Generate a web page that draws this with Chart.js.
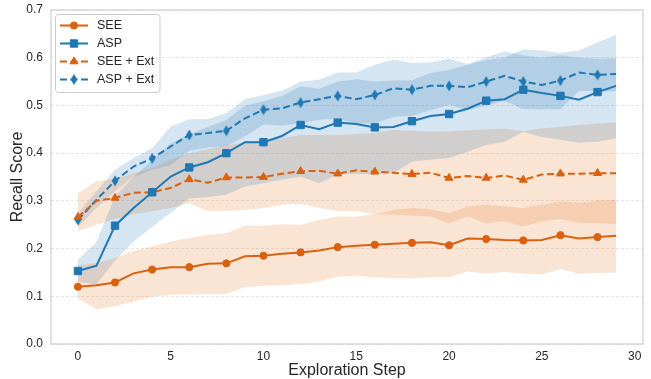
<!DOCTYPE html>
<html><head><meta charset="utf-8">
<script src="https://cdn.jsdelivr.net/npm/chart.js@4/dist/chart.umd.min.js"></script>
<style>html,body{margin:0;padding:0;background:#fff;}#wrap{width:651px;height:379px;}</style>
</head><body><div id="wrap"><canvas id="c" width="651" height="379"></canvas></div>
<script>
const steps = [0,1,2,3,4,5,6,7,8,9,10,11,12,13,14,15,16,17,18,19,20,21,22,23,24,25,26,27,28,29];
const xTicks = [0,5,10,15,20,25,30];
const yTicks = [0,0.1,0.2,0.3,0.4,0.5,0.6,0.7];
const seriesNames = ['SEE','ASP','SEE + Ext','ASP + Ext'];

const seeMean = [0.120,0.123,0.129,0.148,0.156,0.161,0.161,0.168,0.169,0.184,0.185,0.189,0.192,0.196,0.203,0.206,0.208,0.210,0.212,0.213,0.207,0.221,0.220,0.218,0.217,0.218,0.228,0.221,0.224,0.227];
const seeLow  = [0.095,0.073,0.079,0.089,0.099,0.104,0.104,0.105,0.105,0.119,0.122,0.123,0.126,0.131,0.141,0.143,0.140,0.138,0.138,0.140,0.140,0.152,0.148,0.151,0.147,0.146,0.157,0.147,0.149,0.150];
const seeHigh = [0.165,0.170,0.180,0.195,0.205,0.215,0.222,0.229,0.232,0.248,0.248,0.251,0.250,0.260,0.267,0.267,0.272,0.281,0.285,0.283,0.274,0.288,0.292,0.288,0.285,0.292,0.299,0.296,0.301,0.302];

const aspMean = [0.153,0.164,0.248,0.285,0.318,0.351,0.370,0.381,0.400,0.423,0.423,0.436,0.459,0.450,0.464,0.461,0.454,0.455,0.467,0.478,0.482,0.493,0.510,0.513,0.533,0.526,0.520,0.512,0.528,0.541];
const aspLow  = [0.130,0.125,0.175,0.215,0.245,0.275,0.305,0.308,0.313,0.330,0.337,0.344,0.351,0.337,0.355,0.357,0.355,0.358,0.382,0.386,0.390,0.403,0.417,0.424,0.445,0.434,0.428,0.422,0.424,0.431];
const aspHigh = [0.176,0.214,0.310,0.350,0.385,0.420,0.440,0.455,0.470,0.500,0.509,0.520,0.540,0.535,0.550,0.555,0.550,0.552,0.553,0.568,0.574,0.585,0.595,0.600,0.618,0.615,0.610,0.615,0.632,0.648];

const seeExtMean = [0.266,0.300,0.306,0.317,0.318,0.327,0.345,0.338,0.349,0.349,0.350,0.357,0.362,0.363,0.357,0.364,0.361,0.359,0.356,0.359,0.348,0.352,0.348,0.353,0.344,0.355,0.357,0.357,0.358,0.358];
const seeExtLow  = [0.236,0.250,0.262,0.272,0.278,0.285,0.295,0.278,0.279,0.281,0.285,0.292,0.294,0.285,0.278,0.278,0.272,0.271,0.269,0.268,0.253,0.267,0.253,0.257,0.246,0.257,0.262,0.254,0.253,0.252];
const seeExtHigh = [0.316,0.341,0.346,0.358,0.369,0.386,0.400,0.408,0.417,0.422,0.428,0.431,0.438,0.438,0.438,0.440,0.442,0.449,0.447,0.445,0.446,0.448,0.450,0.451,0.446,0.452,0.455,0.459,0.462,0.464];

const aspExtMean = [0.260,0.302,0.342,0.372,0.389,0.414,0.438,0.442,0.447,0.473,0.491,0.494,0.506,0.513,0.520,0.513,0.522,0.536,0.533,0.541,0.541,0.538,0.550,0.562,0.550,0.543,0.552,0.569,0.564,0.566];
const aspExtLow  = [0.245,0.285,0.320,0.350,0.365,0.375,0.405,0.412,0.415,0.435,0.460,0.458,0.462,0.470,0.472,0.462,0.462,0.476,0.478,0.490,0.501,0.490,0.500,0.510,0.492,0.492,0.492,0.530,0.530,0.529];
const aspExtHigh = [0.275,0.320,0.365,0.390,0.410,0.456,0.471,0.471,0.484,0.513,0.522,0.531,0.550,0.554,0.569,0.569,0.585,0.596,0.589,0.590,0.598,0.587,0.601,0.613,0.605,0.600,0.605,0.600,0.598,0.599];

const ORANGE = '#d9610f', BLUE = '#1f77b4';
const ORANGE_FILL = 'rgba(232,120,40,0.2)', BLUE_FILL = 'rgba(31,119,180,0.19)';
const FONT = '"Liberation Sans", Arial, sans-serif';
const TXT = '#262626';

function thinDiamond(color){
  const c = document.createElement('canvas'); c.width = 8; c.height = 12;
  const g = c.getContext('2d'); g.fillStyle = color; g.beginPath();
  g.moveTo(4,0.5); g.lineTo(7.3,6); g.lineTo(4,11.5); g.lineTo(0.7,6); g.closePath(); g.fill();
  return c;
}
const diamondImg = thinDiamond(BLUE);

const xy = arr => steps.map((s,i)=>({x:s, y:arr[i]}));
const every2 = r => ctx => (ctx.dataIndex % 2 === 0 ? r : 0);

function lineDs(label, data, color, dash, style, radius){
  return {label, data: xy(data), borderColor: color, backgroundColor: color, borderWidth: 2,
    borderDash: dash, pointStyle: style, pointRadius: every2(radius), pointHoverRadius: 0,
    pointBackgroundColor: color, pointBorderColor: color, pointBorderWidth: 1, fill: false, tension: 0, order: 0};
}
function bandLow(data){
  return {label:'_low', data: xy(data), borderColor:'rgba(0,0,0,0)', borderWidth:0, pointRadius:0, fill:false, order:1};
}
function bandHigh(data, lowIdx, fillColor){
  return {label:'_high', data: xy(data), borderColor:'rgba(0,0,0,0)', borderWidth:0, pointRadius:0,
    backgroundColor: fillColor, fill:{target: lowIdx}, order:1};
}

const datasets = [
  lineDs(seriesNames[0], seeMean, ORANGE, [], 'circle', 3.6),
  lineDs(seriesNames[1], aspMean, BLUE, [], 'rect', 5.2),
  lineDs(seriesNames[2], seeExtMean, ORANGE, [7,3.5], 'triangle', 4.6),
  lineDs(seriesNames[3], aspExtMean, BLUE, [7,3.5], diamondImg, 5),
  bandLow(seeLow), bandHigh(seeHigh, 4, ORANGE_FILL),
  bandLow(aspLow), bandHigh(aspHigh, 6, BLUE_FILL),
  bandLow(seeExtLow), bandHigh(seeExtHigh, 8, ORANGE_FILL),
  bandLow(aspExtLow), bandHigh(aspExtHigh, 10, BLUE_FILL)
];

const framePlugin = {
  id:'frame',
  afterDraw(chart){
    const {ctx, chartArea:a} = chart;
    ctx.save();
    ctx.strokeStyle = '#cfcfcf'; ctx.lineWidth = 1.25;
    ctx.strokeRect(a.left, a.top, a.right-a.left, a.bottom-a.top);
    const bx = 55.5, by = 14.5, bw = 104.5, bh = 78;
    ctx.fillStyle = 'rgba(255,255,255,0.85)'; ctx.strokeStyle = '#cccccc'; ctx.lineWidth = 1;
    ctx.beginPath();
    if (ctx.roundRect) ctx.roundRect(bx, by, bw, bh, 3); else ctx.rect(bx, by, bw, bh);
    ctx.fill(); ctx.stroke();
    const rows = [25.5, 43.5, 61.5, 79.5];
    for (let i = 0; i < 4; i++){
      const ds = chart.data.datasets[i];
      const y = rows[i];
      ctx.strokeStyle = ds.borderColor; ctx.lineWidth = 2; ctx.setLineDash(ds.borderDash);
      ctx.beginPath(); ctx.moveTo(60, y); ctx.lineTo(88, y); ctx.stroke();
      ctx.setLineDash([]);
      const r = typeof ds.pointStyle === 'string' ? ({circle:3.6, rect:5.2, triangle:4.6})[ds.pointStyle] : 5;
      ctx.fillStyle = ds.borderColor; ctx.strokeStyle = ds.borderColor; ctx.lineWidth = 1;
      Chart.helpers.drawPoint(ctx, {pointStyle: ds.pointStyle, radius: r, borderWidth: 1, rotation: 0}, 74, y);
      ctx.fillStyle = TXT; ctx.font = '12.5px ' + FONT; ctx.textBaseline = 'middle'; ctx.textAlign = 'left';
      ctx.fillText(ds.label, 97, y + 0.5);
    }
    ctx.restore();
  }
};

new Chart(document.getElementById('c'), {
  type: 'line',
  data: { datasets },
  options: {
    responsive: false, animation: false, devicePixelRatio: 1,
    layout: { padding: { top: 10, right: 8, left: 0, bottom: 0 } },
    plugins: { legend: { display: false }, tooltip: { enabled: false }, filler: { drawTime: 'beforeDatasetsDraw' } },
    scales: {
      x: {
        type: 'linear', min: -1.45, max: 30.45,
        afterBuildTicks: s => { s.ticks = xTicks.map(v => ({value: v})); },
        afterFit: s => { s.height = 35; s.paddingLeft = 0; s.paddingRight = 0; },
        grid: { display: false, drawTicks: false },
        border: { display: false },
        ticks: { font: { size: 12, family: FONT }, color: TXT, padding: 5, callback: v => String(v) },
        title: { display: true, text: 'Exploration Step', font: { size: 16, family: FONT }, color: TXT, padding: { top: 0, bottom: -1 } }
      },
      y: {
        min: 0, max: 0.7,
        afterBuildTicks: s => { s.ticks = yTicks.map(v => ({value: v})); },
        afterFit: s => { s.width = 51; s.paddingTop = 0; s.paddingBottom = 0; },
        grid: { color: '#e2e2e2', lineWidth: 0.9, drawTicks: false },
        border: { display: false, dash: [3, 2] },
        ticks: { font: { size: 12, family: FONT }, color: TXT, padding: 8, callback: v => Number(v).toFixed(1) },
        title: { display: true, text: 'Recall Score', font: { size: 16, family: FONT }, color: TXT, padding: { top: 8, bottom: 0 } }
      }
    }
  },
  plugins: [framePlugin]
});
</script></body></html>
